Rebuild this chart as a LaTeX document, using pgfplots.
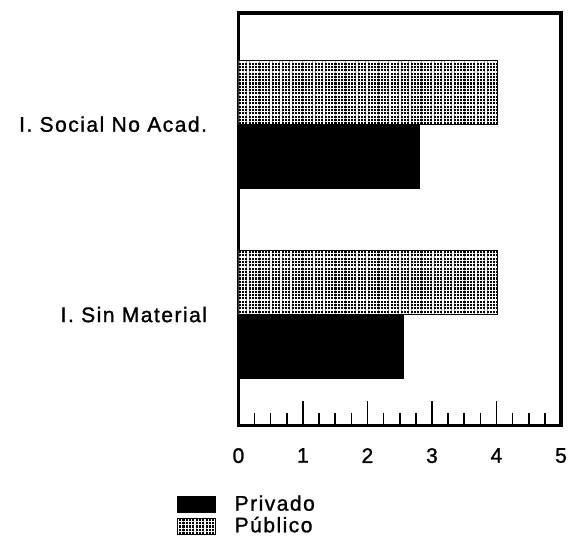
\documentclass[border=0pt]{standalone}
\usepackage{fontspec}
\setmainfont{Liberation Sans}[LetterSpace=7, FakeBold=1.2]
\usepackage{pgfplots}
\pgfplotsset{compat=1.18}
\usetikzlibrary{patterns.meta}
\begin{document}
\fontsize{10.5}{12}\selectfont
\begin{tikzpicture}
\begin{axis}[
  scale only axis, width=161pt, height=206pt,
  xbar, bar width=0.337,
  xmin=0, xmax=5, ymin=-0.584, ymax=1.584,
  xtick={0,1,2,3,4,5}, minor x tick num=3,
  tick align=inside, xtick pos=left,
  ytick={0,1}, yticklabels={I. Sin Material, I. Social No Acad.},
  ytick style={draw=none},
  major tick length=12.5pt, minor tick length=6.5pt,
  axis line style={line width=1.6pt},
  xtick style={line width=0.8pt, black},
  xticklabel style={yshift=-7.5pt},
  yticklabel style={xshift=-12pt},
  /pgf/number format/assume math mode=true,
  legend style={at={(-0.193,-0.158)}, anchor=north west, draw=none, fill=none,
    inner sep=0pt, row sep=-2.5pt, font=\fontsize{10.5}{12}\selectfont},
  legend cell align=left,
  legend image code/.code={\draw[#1] (0pt,-4pt) rectangle (19pt,4pt); \path (26.5pt,0pt);},
]
\addplot[fill=black, draw=black, bar shift=-0.1685] coordinates {(2.55,0) (2.8,1)};
\addlegendentry{Privado}
\addplot[fill=black, draw=black, line width=0.5pt, bar shift=0.1685,
  postaction={pattern={Hatch[distance=1.65pt, line width=0.6pt]}, pattern color=white}]
  coordinates {(4.02,0) (4.02,1)};
\addlegendentry{Público}
\coordinate (nw) at (rel axis cs:0,1);
\coordinate (se) at (rel axis cs:1,0);
\end{axis}
\pgfresetboundingbox
\path ([shift={(-119pt,6.5pt)}]nw) rectangle ([shift={(4pt,-61pt)}]se);
\end{tikzpicture}
\end{document}
